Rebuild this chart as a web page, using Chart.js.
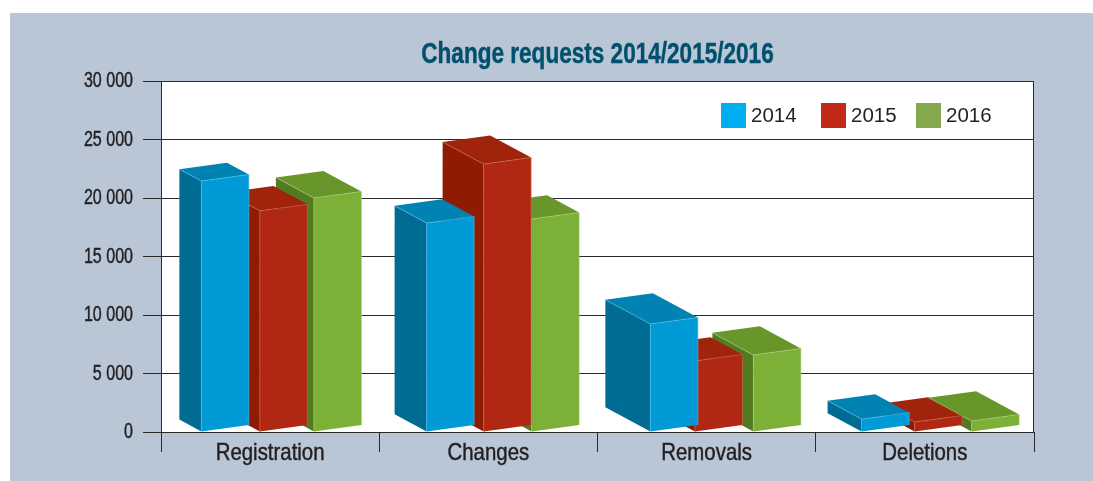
<!DOCTYPE html>
<html>
<head>
<meta charset="utf-8">
<style>
html,body{margin:0;padding:0;background:#fff;}
#wrap{position:relative;width:1093px;height:481px;}
canvas{display:block;}
</style>
<script src="https://cdn.jsdelivr.net/npm/chart.js@4/dist/chart.umd.js"></script>
</head>
<body>
<div id="wrap"><canvas id="c" width="1093" height="481"></canvas></div>
<script>
// ---- data ----
const categories = ["Registration", "Changes", "Removals", "Deletions"];
const seriesNames = ["2014", "2015", "2016"];
const values2014 = [21450, 17860, 9230, 1100];
const values2015 = [18900, 22900, 6070, 850];
const values2016 = [20000, 18200, 6580, 940];
const yTicks = [0, 5000, 10000, 15000, 20000, 25000, 30000];
const chartTitle = "Change requests 2014/2015/2016";

// ---- styles (3D look, no data) ----
const frontColors = ["#009ad6", "#b02813", "#7cb036"];
const sideColors  = ["#006b93", "#8e1b02", "#517a21"];
const topColors   = ["#0082b3", "#a0230c", "#69962b"];
const edgeColors  = ["#55bfe6", "#cf6a55", "#a8cf78"];
const legendColors = ["#00aeef", "#c02a17", "#86a84c"];
const depthBySeries = [[22, 32, 45, 34], [34, 41, 32, 34], [38, 32, 41, 43]];
const nudgeBySeries = [[9, 16, 21.5, 14.5], [13.5, 19, 12, 13.5], [13.5, 13, 16.5, 16.5]];
const legendBoxX = [721, 821, 916];
const textColor = "#231f20";
const narrow = '"Liberation Sans Narrow", "Liberation Sans", sans-serif';
const condenseBySize = { 29: 0.778, 24: 0.85, 22: 0.73 };

const canvas = document.getElementById("c");
const ctx2d = canvas.getContext("2d");
// The installed fonts have no condensed cut: squeeze "narrow" text horizontally, keeping it real text.
const plainFillText = ctx2d.fillText.bind(ctx2d);
ctx2d.fillText = function (text, x, y, maxWidth) {
  const m = /Narrow/.test(ctx2d.font) && ctx2d.font.match(/([\d.]+)px/);
  const k = m ? condenseBySize[Math.round(parseFloat(m[1]))] : null;
  if (!k) { plainFillText(text, x, y, maxWidth); return; }
  ctx2d.save();
  ctx2d.translate(x, y);
  ctx2d.scale(k, 1);
  plainFillText(text, 0, 0);
  // A hair of stroke restores the weight lost by squeezing.
  ctx2d.strokeStyle = ctx2d.fillStyle;
  ctx2d.lineWidth = 0.45;
  ctx2d.strokeText(text, 0, 0);
  ctx2d.restore();
};

function poly(ctx, pts, fill) {
  ctx.beginPath();
  pts.forEach((p, i) => i ? ctx.lineTo(p[0], p[1]) : ctx.moveTo(p[0], p[1]));
  ctx.closePath();
  ctx.fillStyle = fill;
  ctx.fill();
}

const panelPlugin = {
  id: "panel",
  beforeDraw(chart) {
    const { ctx, chartArea: a } = chart;
    ctx.save();
    ctx.fillStyle = "#b9c6d5";
    ctx.fillRect(10, 13, chart.width - 10, chart.height - 13);
    ctx.fillStyle = "#fff";
    ctx.fillRect(a.left, a.top, a.right - a.left, a.bottom - a.top);
    ctx.restore();
  },
  afterDraw(chart) {
    const { ctx, chartArea: a } = chart;
    ctx.save();
    ctx.strokeStyle = "#2a2a2a";
    ctx.lineWidth = 1;
    ctx.beginPath();
    ctx.moveTo(a.right - .5, a.top);
    ctx.lineTo(a.right - .5, a.bottom);
    ctx.stroke();
    ctx.textBaseline = "middle";
    ctx.textAlign = "left";
    ctx.font = '20.5px "Liberation Sans", sans-serif';
    seriesNames.forEach((name, i) => {
      ctx.fillStyle = legendColors[i];
      ctx.fillRect(legendBoxX[i], a.top + 22, 25, 25);
      ctx.fillStyle = textColor;
      ctx.fillText(name, legendBoxX[i] + 30, a.top + 35);
    });
    ctx.restore();
  }
};

const bars3d = {
  id: "bars3d",
  beforeDatasetsDraw(chart) {
    const ctx = chart.ctx;
    const skew = 6.5;
    const geom = (s, c) => {
      const el = chart.getDatasetMeta(s).data[c];
      const xl = el.x - el.width / 2 + nudgeBySeries[s][c], xr = xl + el.width;
      const dx = depthBySeries[s][c];
      return { xl, xr, yt: el.y, yb: el.base, dx, dy: dx * 0.54 };
    };
    ctx.save();
    ctx.lineWidth = 0.6;
    categories.forEach((_, c) => {
      // Side faces go to the back, then the tops, then the front faces.
      [2, 1, 0].forEach(s => {
        const { xl, yt, yb, dx, dy } = geom(s, c);
        poly(ctx, [[xl, yt], [xl - dx, yt - dy], [xl - dx, yb - dy], [xl, yb]], sideColors[s]);
      });
      [1, 2, 0].forEach(s => {
        const { xl, xr, yt, dx, dy } = geom(s, c);
        poly(ctx, [[xl, yt], [xr, yt - skew], [xr - dx, yt - skew - dy], [xl - dx, yt - dy]], topColors[s]);
        ctx.strokeStyle = edgeColors[s];
        ctx.beginPath();
        ctx.moveTo(xl - dx, yt - dy);
        ctx.lineTo(xl, yt);
        ctx.stroke();
      });
      [2, 1, 0].forEach(s => {
        const { xl, xr, yt, yb } = geom(s, c);
        poly(ctx, [[xl, yt], [xr, yt - skew], [xr, yb - skew], [xl, yb]], frontColors[s]);
        ctx.strokeStyle = edgeColors[s];
        ctx.beginPath();
        ctx.moveTo(xl, yb);
        ctx.lineTo(xl, yt);
        ctx.lineTo(xr, yt - skew);
        ctx.lineTo(xr, yb - skew);
        ctx.stroke();
      });
    });
    ctx.restore();
    return false;
  }
};

new Chart(canvas, {
  type: "bar",
  data: {
    labels: categories,
    datasets: [values2014, values2015, values2016].map((vals, i) => ({
      label: seriesNames[i],
      data: vals,
      backgroundColor: frontColors[i],
      categoryPercentage: 0.7423,
      barPercentage: 0.88
    }))
  },
  plugins: [panelPlugin, bars3d],
  options: {
    responsive: false,
    animation: false,
    layout: { padding: { left: 0, right: 59, top: 0, bottom: 0 } },
    plugins: {
      legend: { display: false },
      tooltip: { enabled: false },
      title: {
        display: true,
        text: chartTitle,
        fullSize: false,
        color: "#00506e",
        font: { family: narrow, size: 29, weight: "bold", lineHeight: 1.2 },
        padding: { top: 37.5, bottom: 8.7 }
      }
    },
    scales: {
      x: {
        afterFit(s) { s.height = 49; },
        grid: { drawOnChartArea: false, drawTicks: true, tickLength: 20, color: "#2a2a2a", lineWidth: 1 },
        border: { display: true, color: "#2a2a2a", width: 1 },
        ticks: { color: textColor, padding: -13.5, maxRotation: 0, font: { family: narrow, size: 24 } }
      },
      y: {
        min: 0,
        max: 30000,
        afterFit(s) { s.width = 161; },
        afterBuildTicks(s) { s.ticks = yTicks.map(v => ({ value: v })); },
        grid: { drawTicks: true, tickLength: 18, color: "#2a2a2a", lineWidth: 1 },
        border: { display: true, color: "#2a2a2a", width: 1 },
        ticks: {
          color: textColor,
          padding: 10,
          font: { family: narrow, size: 22 },
          callback: v => String(v).replace(/\B(?=(\d{3})+$)/g, " ")
        }
      }
    }
  }
});
</script>
</body>
</html>
